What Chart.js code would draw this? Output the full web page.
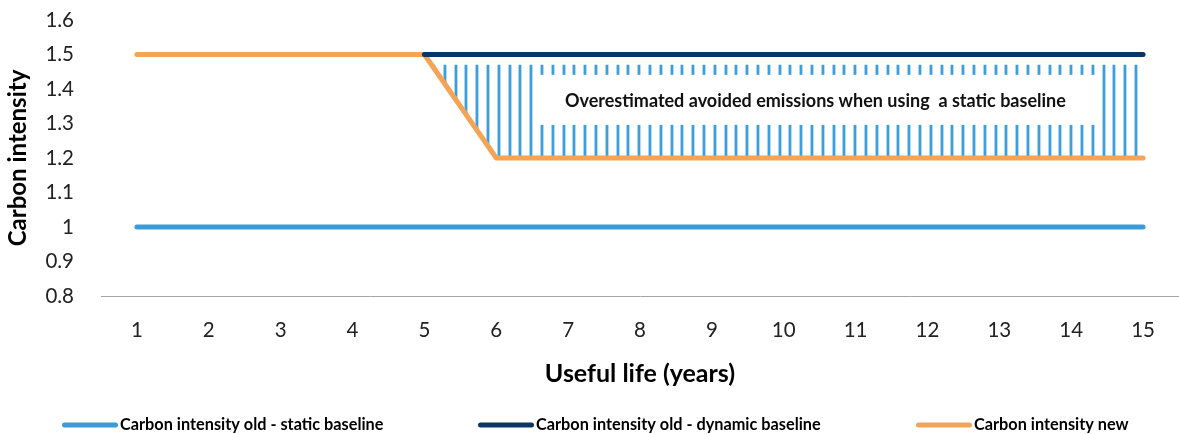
<!DOCTYPE html>
<html>
<head>
<meta charset="utf-8">
<script src="https://cdn.jsdelivr.net/npm/chart.js@4.4.1/dist/chart.umd.min.js"></script>
<style>
html,body{margin:0;padding:0;background:#fff;}
#wrap{position:relative;width:1179px;height:434px;}
</style>
</head>
<body>
<div id="wrap"><canvas id="c" width="1179" height="434"></canvas></div>
<script>
// ---- data ----
const years = ['1','2','3','4','5','6','7','8','9','10','11','12','13','14','15'];
const staticBaseline = [1,1,1,1,1,1,1,1,1,1,1,1,1,1,1];
const dynamicBaseline = [null,null,null,null,1.5,1.5,1.5,1.5,1.5,1.5,1.5,1.5,1.5,1.5,1.5];
const intensityNew = [1.5,1.5,1.5,1.5,1.5,1.2,1.2,1.2,1.2,1.2,1.2,1.2,1.2,1.2,1.2];
const hatchTop = [null,null,null,null,1.47,1.47,1.47,1.47,1.47,1.47,1.47,1.47,1.47,1.47,1.47];
const seriesNames = ['Carbon intensity old - static baseline','Carbon intensity old - dynamic baseline','Carbon intensity new'];
const noteText = 'Overestimated avoided emissions when using  a static baseline';
const noteBox = {x0: 6.51, x1: 14.37, y0: 1.441, y1: 1.296};

const colStatic = '#3a9bd7';
const colDynamic = '#0b3564';
const colNew = '#f4a457';

// stripe pattern (vertical hatch)
function makePattern(){
  const pc = document.createElement('canvas');
  pc.width = 54; pc.height = 4;
  const g = pc.getContext('2d');
  const starts = [0, 11, 22, 32, 43];
  starts.forEach(s => {
    g.fillStyle = '#a9d3ef'; g.fillRect(s, 0, 1, 4);
    g.fillStyle = '#3a9fdb'; g.fillRect(s+1, 0, 2, 4);
    g.fillStyle = '#b5dbf3'; g.fillRect(s+3, 0, 1, 4);
  });
  return g.createPattern(pc, 'repeat');
}
const stripe = makePattern();

const notePlugin = {
  id: 'note',
  afterDatasetsDraw(chart){
    const {ctx, scales:{x, y}} = chart;
    const px = v => x.getPixelForValue(v - 1);
    const l = px(noteBox.x0), r = px(noteBox.x1);
    const t = y.getPixelForValue(noteBox.y0), b = y.getPixelForValue(noteBox.y1);
    ctx.save();
    ctx.fillStyle = '#ffffff';
    ctx.fillRect(l, t, r - l, b - t);
    ctx.fillStyle = '#111';
    ctx.font = 'bold 18px Lato';
    ctx.textAlign = 'center';
    ctx.textBaseline = 'middle';
    ctx.fillText(noteText, (l + r) / 2, (t + b) / 2 + 1);
    ctx.restore();
  }
};

// custom line legend placed like the original
const legendPlugin = {
  id: 'lineLegend',
  afterDraw(chart){
    const {ctx} = chart;
    const starts = [62, 478, 916];
    const yc = 425;
    ctx.save();
    ctx.font = 'bold 16.3px Lato';
    ctx.textBaseline = 'middle';
    ctx.textAlign = 'left';
    chart.data.datasets.slice(0,3).forEach((d,i) => {
      const x0 = starts[i];
      ctx.strokeStyle = d.borderColor;
      ctx.lineWidth = 5;
      ctx.lineCap = 'round';
      ctx.beginPath(); ctx.moveTo(x0 + 2.5, yc); ctx.lineTo(x0 + 53.5, yc); ctx.stroke();
      ctx.fillStyle = '#000';
      ctx.fillText(d.label, x0 + 58, yc);
    });
    ctx.restore();
  }
};

const lineDs = (label, data, color) => ({
  label, data, borderColor: color, backgroundColor: color,
  borderWidth: 5, pointRadius: 0, borderCapStyle: 'round', borderJoinStyle: 'round',
  fill: false, tension: 0
});

new Chart(document.getElementById('c'), {
  type: 'line',
  data: {
    labels: years,
    datasets: [
      lineDs(seriesNames[0], staticBaseline, colStatic),
      lineDs(seriesNames[1], dynamicBaseline, colDynamic),
      lineDs(seriesNames[2], intensityNew, colNew),
      {
        label: 'hatch', data: hatchTop, borderWidth: 0, borderColor: 'rgba(0,0,0,0)',
        pointRadius: 0, backgroundColor: stripe,
        fill: {target: 2, above: stripe, below: 'rgba(0,0,0,0)'}
      }
    ]
  },
  options: {
    responsive: false,
    animation: false,
    devicePixelRatio: 1,
    layout: {padding: {top: 20, right: 0, left: 0, bottom: 38}},
    plugins: {
      tooltip: {enabled: false},
      legend: {display: false}
    },
    scales: {
      x: {
        offset: true,
        grid: {display: false, drawTicks: false},
        border: {display: true, color: '#a6a6a6', width: 1},
        ticks: {color: '#222', font: {family: 'Lato', size: 20.5}, padding: 22, maxRotation: 0},
        title: {display: true, text: 'Useful life (years)', color: '#000', font: {family: 'Lato', weight: 'bold', size: 25}, padding: {top: 4, bottom: 7}},
        afterFit(scale){ scale.height = 100; }
      },
      y: {
        min: 0.8, max: 1.6,
        grid: {display: false, drawTicks: false},
        border: {display: false},
        ticks: {stepSize: 0.1, color: '#222', font: {family: 'Lato', size: 20.5}, padding: 27,
          callback: v => String(Math.round(v*10)/10)},
        title: {display: true, text: 'Carbon intensity', color: '#000', font: {family: 'Lato', weight: 'bold', size: 24}, padding: {top: 4, bottom: 4}},
        afterFit(scale){ scale.width = 101; scale.paddingTop = 0; scale.paddingBottom = 0; }
      }
    }
  },
  plugins: [notePlugin, legendPlugin]
});
</script>
</body>
</html>
